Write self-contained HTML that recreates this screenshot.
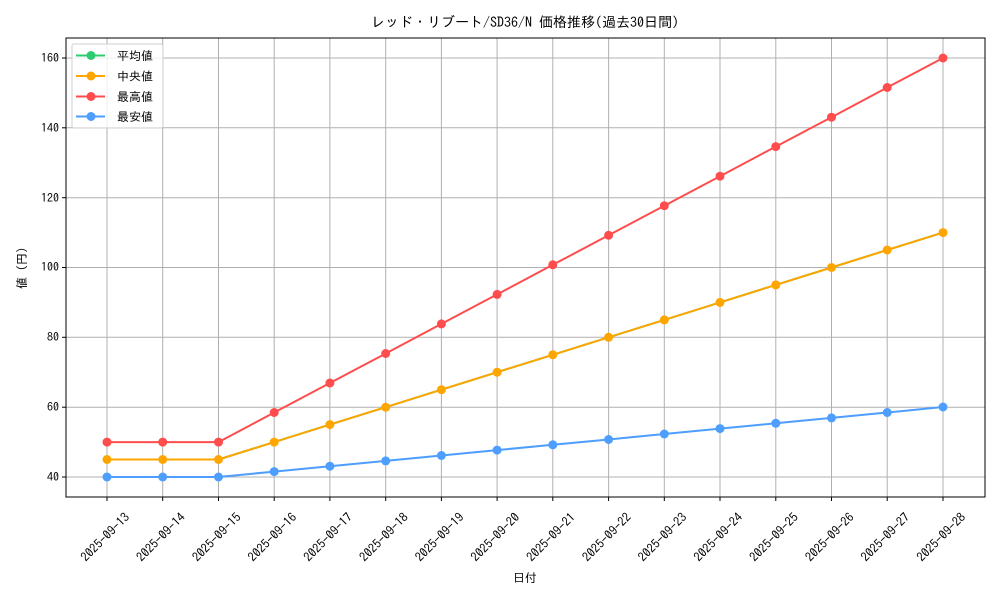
<!DOCTYPE html>
<html><head><meta charset="utf-8"><style>
body{margin:0;background:#fff}
svg{font-family:"IPAGothic","Noto Sans CJK JP",sans-serif;}
</style></head><body>
<svg width="1000" height="600" viewBox="0 0 1000 600" xmlns="http://www.w3.org/2000/svg">
<rect width="1000" height="600" fill="#fff"/>
<g stroke="#b0b0b0" stroke-width="1">
<line x1="107" y1="38" x2="107" y2="497"/><line x1="162.7" y1="38" x2="162.7" y2="497"/><line x1="218.5" y1="38" x2="218.5" y2="497"/><line x1="274.2" y1="38" x2="274.2" y2="497"/><line x1="329.9" y1="38" x2="329.9" y2="497"/><line x1="385.7" y1="38" x2="385.7" y2="497"/><line x1="441.4" y1="38" x2="441.4" y2="497"/><line x1="497.1" y1="38" x2="497.1" y2="497"/><line x1="552.8" y1="38" x2="552.8" y2="497"/><line x1="608.6" y1="38" x2="608.6" y2="497"/><line x1="664.3" y1="38" x2="664.3" y2="497"/><line x1="720" y1="38" x2="720" y2="497"/><line x1="775.8" y1="38" x2="775.8" y2="497"/><line x1="831.5" y1="38" x2="831.5" y2="497"/><line x1="887.2" y1="38" x2="887.2" y2="497"/><line x1="943" y1="38" x2="943" y2="497"/>
<line x1="66" y1="477" x2="985" y2="477"/><line x1="66" y1="407.2" x2="985" y2="407.2"/><line x1="66" y1="337.3" x2="985" y2="337.3"/><line x1="66" y1="267.5" x2="985" y2="267.5"/><line x1="66" y1="197.7" x2="985" y2="197.7"/><line x1="66" y1="127.8" x2="985" y2="127.8"/><line x1="66" y1="58" x2="985" y2="58"/>
</g>
<rect x="66" y="38" width="919" height="459" fill="none" stroke="#000" stroke-width="1"/>
<g stroke="#000"><line x1="62" y1="477" x2="66" y2="477"/><line x1="62" y1="407.2" x2="66" y2="407.2"/><line x1="62" y1="337.3" x2="66" y2="337.3"/><line x1="62" y1="267.5" x2="66" y2="267.5"/><line x1="62" y1="197.7" x2="66" y2="197.7"/><line x1="62" y1="127.8" x2="66" y2="127.8"/><line x1="62" y1="58" x2="66" y2="58"/>
<line x1="107" y1="497" x2="107" y2="501"/><line x1="162.7" y1="497" x2="162.7" y2="501"/><line x1="218.5" y1="497" x2="218.5" y2="501"/><line x1="274.2" y1="497" x2="274.2" y2="501"/><line x1="329.9" y1="497" x2="329.9" y2="501"/><line x1="385.7" y1="497" x2="385.7" y2="501"/><line x1="441.4" y1="497" x2="441.4" y2="501"/><line x1="497.1" y1="497" x2="497.1" y2="501"/><line x1="552.8" y1="497" x2="552.8" y2="501"/><line x1="608.6" y1="497" x2="608.6" y2="501"/><line x1="664.3" y1="497" x2="664.3" y2="501"/><line x1="720" y1="497" x2="720" y2="501"/><line x1="775.8" y1="497" x2="775.8" y2="501"/><line x1="831.5" y1="497" x2="831.5" y2="501"/><line x1="887.2" y1="497" x2="887.2" y2="501"/><line x1="943" y1="497" x2="943" y2="501"/></g>
<g font-size="12" text-anchor="end" fill="#000">
<text x="59" y="481">40</text><text x="59" y="411">60</text><text x="59" y="341">80</text><text x="59" y="271">100</text><text x="59" y="202">120</text><text x="59" y="132">140</text><text x="59" y="62">160</text>
</g>
<g font-size="12.5" text-anchor="middle" dominant-baseline="central" fill="#000">
<text transform="translate(105,537) rotate(-45)">2025-09-13</text>
<text transform="translate(160.7,537) rotate(-45)">2025-09-14</text>
<text transform="translate(216.5,537) rotate(-45)">2025-09-15</text>
<text transform="translate(272.2,537) rotate(-45)">2025-09-16</text>
<text transform="translate(327.9,537) rotate(-45)">2025-09-17</text>
<text transform="translate(383.7,537) rotate(-45)">2025-09-18</text>
<text transform="translate(439.4,537) rotate(-45)">2025-09-19</text>
<text transform="translate(495.1,537) rotate(-45)">2025-09-20</text>
<text transform="translate(550.8,537) rotate(-45)">2025-09-21</text>
<text transform="translate(606.6,537) rotate(-45)">2025-09-22</text>
<text transform="translate(662.3,537) rotate(-45)">2025-09-23</text>
<text transform="translate(718,537) rotate(-45)">2025-09-24</text>
<text transform="translate(773.8,537) rotate(-45)">2025-09-25</text>
<text transform="translate(829.5,537) rotate(-45)">2025-09-26</text>
<text transform="translate(885.2,537) rotate(-45)">2025-09-27</text>
<text transform="translate(941,537) rotate(-45)">2025-09-28</text>
</g>
<text x="525" y="582" font-size="12" text-anchor="middle">日付</text>
<text transform="translate(26,268) rotate(-90)" font-size="12" text-anchor="middle">値 (円)</text>
<text x="525" y="27" font-size="14" text-anchor="middle">レッド・リブート/SD36/N 価格推移(過去30日間)</text>
<defs>
<polyline id="med" points="107,459.5 162.7,459.5 218.5,459.5 274.2,442.1 329.9,424.6 385.7,407.2 441.4,389.7 497.1,372.2 552.8,354.8 608.6,337.3 664.3,319.9 720,302.4 775.8,284.9 831.5,267.5 887.2,250 943,232.6"/>
<polyline id="max" points="107,442.1 162.7,442.1 218.5,442.1 274.2,412.5 329.9,383 385.7,353.5 441.4,323.9 497.1,294.4 552.8,264.8 608.6,235.3 664.3,205.7 720,176.2 775.8,146.6 831.5,117.2 887.2,87.5 943,58"/>
<polyline id="min" points="107,477 162.7,477 218.5,477 274.2,471.6 329.9,466.2 385.7,460.9 441.4,455.5 497.1,450.1 552.8,444.8 608.6,439.5 664.3,434 720,428.6 775.8,423.3 831.5,417.9 887.2,412.5 943,407"/>
</defs>
<g fill="none" stroke-width="2" stroke-linejoin="round">
<use href="#med" stroke="#2ecc71"/>
<use href="#med" stroke="#ffa500"/>
<use href="#max" stroke="#ff4d4d"/>
<use href="#min" stroke="#4d9eff"/>
</g>
<g fill="#ffa500">
<circle cx="107" cy="459.5" r="4.5"/><circle cx="162.7" cy="459.5" r="4.5"/><circle cx="218.5" cy="459.5" r="4.5"/><circle cx="274.2" cy="442.1" r="4.5"/><circle cx="329.9" cy="424.6" r="4.5"/><circle cx="385.7" cy="407.2" r="4.5"/><circle cx="441.4" cy="389.7" r="4.5"/><circle cx="497.1" cy="372.2" r="4.5"/><circle cx="552.8" cy="354.8" r="4.5"/><circle cx="608.6" cy="337.3" r="4.5"/><circle cx="664.3" cy="319.9" r="4.5"/><circle cx="720" cy="302.4" r="4.5"/><circle cx="775.8" cy="284.9" r="4.5"/><circle cx="831.5" cy="267.5" r="4.5"/><circle cx="887.2" cy="250" r="4.5"/><circle cx="943" cy="232.6" r="4.5"/>
</g>
<g fill="#ff4d4d">
<circle cx="107" cy="442.1" r="4.5"/><circle cx="162.7" cy="442.1" r="4.5"/><circle cx="218.5" cy="442.1" r="4.5"/><circle cx="274.2" cy="412.5" r="4.5"/><circle cx="329.9" cy="383" r="4.5"/><circle cx="385.7" cy="353.5" r="4.5"/><circle cx="441.4" cy="323.9" r="4.5"/><circle cx="497.1" cy="294.4" r="4.5"/><circle cx="552.8" cy="264.8" r="4.5"/><circle cx="608.6" cy="235.3" r="4.5"/><circle cx="664.3" cy="205.7" r="4.5"/><circle cx="720" cy="176.2" r="4.5"/><circle cx="775.8" cy="146.6" r="4.5"/><circle cx="831.5" cy="117.2" r="4.5"/><circle cx="887.2" cy="87.5" r="4.5"/><circle cx="943" cy="58" r="4.5"/>
</g>
<g fill="#4d9eff">
<circle cx="107" cy="477" r="4.5"/><circle cx="162.7" cy="477" r="4.5"/><circle cx="218.5" cy="477" r="4.5"/><circle cx="274.2" cy="471.6" r="4.5"/><circle cx="329.9" cy="466.2" r="4.5"/><circle cx="385.7" cy="460.9" r="4.5"/><circle cx="441.4" cy="455.5" r="4.5"/><circle cx="497.1" cy="450.1" r="4.5"/><circle cx="552.8" cy="444.8" r="4.5"/><circle cx="608.6" cy="439.5" r="4.5"/><circle cx="664.3" cy="434" r="4.5"/><circle cx="720" cy="428.6" r="4.5"/><circle cx="775.8" cy="423.3" r="4.5"/><circle cx="831.5" cy="417.9" r="4.5"/><circle cx="887.2" cy="412.5" r="4.5"/><circle cx="943" cy="407" r="4.5"/>
</g>
<rect x="72" y="44" width="91" height="84" rx="2" fill="#fff" fill-opacity="0.8" stroke="#d0d0d0"/>
<g stroke-width="2">
<line x1="76" y1="55.5" x2="105" y2="55.5" stroke="#2ecc71"/><circle cx="91" cy="55.5" r="4.5" fill="#2ecc71"/>
<line x1="76" y1="76" x2="105" y2="76" stroke="#ffa500"/><circle cx="91" cy="76" r="4.5" fill="#ffa500"/>
<line x1="76" y1="96.5" x2="105" y2="96.5" stroke="#ff4d4d"/><circle cx="91" cy="96.5" r="4.5" fill="#ff4d4d"/>
<line x1="76" y1="116.5" x2="105" y2="116.5" stroke="#4d9eff"/><circle cx="91" cy="116.5" r="4.5" fill="#4d9eff"/>
</g>
<g font-size="12" fill="#000">
<text x="117" y="60">平均値</text><text x="117" y="80.5">中央値</text><text x="117" y="101">最高値</text><text x="117" y="121">最安値</text>
</g>
</svg>
</body></html>
